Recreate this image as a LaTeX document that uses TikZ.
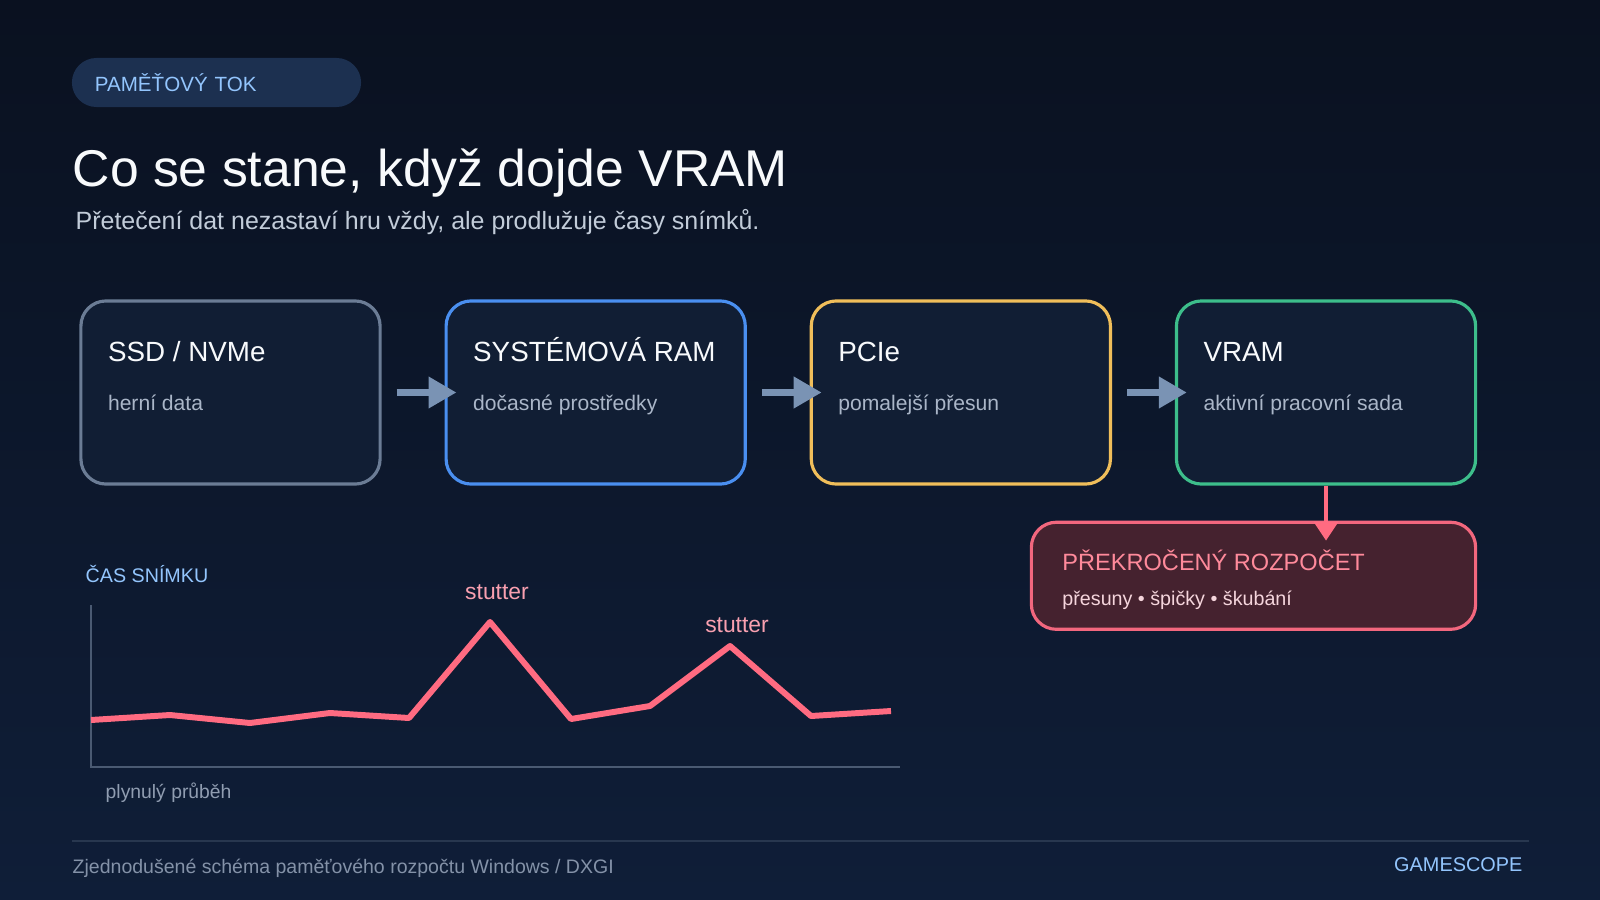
\documentclass[tikz,border=0pt]{standalone}
\usepackage{fontspec}
\setmainfont{Liberation Sans}
\usepackage{xcolor}
\usetikzlibrary{arrows.meta, positioning, calc}
\definecolor{bgtop}{HTML}{0A1120}
\definecolor{bgbot}{HTML}{0F1E38}
\definecolor{panel}{HTML}{111E34}
\definecolor{pill}{HTML}{1C3050}
\definecolor{ink}{HTML}{F8FAFC}
\definecolor{mute}{HTML}{AAB6C8}
\definecolor{lede}{HTML}{C2CCD9}
\definecolor{sky}{HTML}{93C5FD}
\definecolor{slate}{HTML}{6B7C95}
\definecolor{ramblue}{HTML}{4A8FF0}
\definecolor{amber}{HTML}{F0BE5A}
\definecolor{mint}{HTML}{3DBE8B}
\definecolor{rose}{HTML}{FF6B81}
\definecolor{roseline}{HTML}{F2677E}
\definecolor{rosefill}{HTML}{45222F}
\definecolor{rosetext}{HTML}{FF8A9B}
\definecolor{rosesub}{HTML}{F5D5DC}
\definecolor{spiketext}{HTML}{F9A0B0}
\definecolor{arrowc}{HTML}{7A93B4}
\definecolor{axis}{HTML}{4A5A72}
\definecolor{rulecolor}{HTML}{28374F}
\definecolor{foot}{HTML}{8492A8}
\tikzset{
  stage/.style    ={draw=#1, line width=0.9pt, rounded corners=0.25cm, fill=panel,
                    minimum width=2.99cm, minimum height=1.83cm, inner sep=0pt},
  stagehead/.style={anchor=base west, inner sep=0pt, text=ink,
                    font=\fontsize{7.9pt}{9pt}\selectfont},
  stagesub/.style ={anchor=base west, inner sep=0pt, text=mute,
                    font=\fontsize{6pt}{7pt}\selectfont},
  overbox/.style  ={draw=roseline, line width=0.9pt, rounded corners=0.25cm, fill=rosefill,
                    minimum width=4.44cm, minimum height=1.07cm, inner sep=0pt},
  overhead/.style ={anchor=base west, inner sep=0pt, text=rosetext,
                    font=\fontsize{6.7pt}{8pt}\selectfont},
  oversub/.style  ={anchor=base west, inner sep=0pt, text=rosesub,
                    font=\fontsize{5.6pt}{7pt}\selectfont},
  flow/.style     ={-{Triangle[length=0.28cm,width=0.3cm]}, line width=2pt, draw=arrowc,
                    shorten <=0.15cm, shorten >=-0.12cm},
  alarm/.style    ={-{Triangle[length=0.19cm,width=0.24cm]}, line width=1.1pt, draw=rose,
                    shorten >=-0.2cm},
  tag/.style      ={fill=pill, rounded corners=0.245cm, minimum height=0.49cm,
                    text width=2.43cm, inner xsep=0.23cm, inner ysep=0pt, align=left,
                    text=sky, font=\fontsize{5.85pt}{7pt}\selectfont},
  headline/.style ={anchor=base west, inner sep=0pt, text=ink,
                    font=\fontsize{14.7pt}{17pt}\selectfont},
  ledetext/.style ={anchor=base west, inner sep=0pt, text=lede,
                    font=\fontsize{7.1pt}{8.5pt}\selectfont},
  chartcap/.style ={anchor=base west, inner sep=0pt, text=sky,
                    font=\fontsize{5.6pt}{7pt}\selectfont},
  spike/.style    ={anchor=base, inner sep=0pt, text=spiketext,
                    font=\fontsize{6.5pt}{8pt}\selectfont},
  chartnote/.style={anchor=base west, inner sep=0pt, text=foot!90!white,
                    font=\fontsize{5.5pt}{7pt}\selectfont},
  footnote/.style ={anchor=base west, inner sep=0pt, text=foot,
                    font=\fontsize{5.55pt}{7pt}\selectfont},
  brand/.style    ={anchor=base east, inner sep=0pt, text=sky,
                    font=\fontsize{5.65pt}{7pt}\selectfont}
}

\begin{document}
\begin{tikzpicture}[x=0.01cm, y=-0.01cm]

  \useasboundingbox (0,0) rectangle (1600,900);
  \shade[top color=bgtop, bottom color=bgbot] (0,0) rectangle (1600,900);

  % heading
  \node[tag] (tag) at (216.5,82.5) {PAMĚŤOVÝ TOK};
  \node[headline] (title) at (72,186) {Co se stane, když dojde VRAM};
  \node[ledetext] (lede) at (75,229) {Přetečení dat nezastaví hru vždy, ale prodlužuje časy snímků.};

  % memory path
  \node[stage=slate]                          (ssd)  at (230.5,392.5) {};
  \node[stage=ramblue, right=0.628cm of ssd]  (ram)  {};
  \node[stage=amber,   right=0.628cm of ram]  (pcie) {};
  \node[stage=mint,    right=0.628cm of pcie] (vram) {};

  \node[stagehead] (ssdT)  at ($(ssd.north west)+(28,62)$)  {SSD / NVMe};
  \node[stagesub]  (ssdS)  at ($(ssd.north west)+(28,111)$) {herní data};
  \node[stagehead] (ramT)  at ($(ram.north west)+(28,62)$)  {SYSTÉMOVÁ RAM};
  \node[stagesub]  (ramS)  at ($(ram.north west)+(28,111)$) {dočasné prostředky};
  \node[stagehead] (pcieT) at ($(pcie.north west)+(28,62)$)  {PCIe};
  \node[stagesub]  (pcieS) at ($(pcie.north west)+(28,111)$) {pomalejší přesun};
  \node[stagehead] (vramT) at ($(vram.north west)+(28,62)$)  {VRAM};
  \node[stagesub]  (vramS) at ($(vram.north west)+(28,111)$) {aktivní pracovní sada};

  \draw[flow] (ssd)  -- (ram);
  \draw[flow] (ram)  -- (pcie);
  \draw[flow] (pcie) -- (vram);

  % budget overflow
  \node[overbox, below=0.35cm of vram.south east, anchor=north east] (over) {};
  \node[overhead] (overT) at ($(over.north west)+(32,50)$) {PŘEKROČENÝ ROZPOČET};
  \node[oversub]  (overS) at ($(over.north west)+(32,85)$) {přesuny • špičky • škubání};
  \draw[alarm] (vram.south) -- (vram.south |- over.north);

  % frame time chart
  \node[chartcap] (frametime) at (85,582) {ČAS SNÍMKU};
  \draw[axis, line width=0.6pt] (91,605) -- (91,767) -- (900,767);
  \draw[rose, line width=1.7pt, line join=round]
    (91,720) -- (170,715) -- (250,723) -- (330,713) -- (409,718) -- (490,622)
    -- (571,719) -- (650,706) -- (730,646) -- (811,716) -- (891,711);
  \node[spike] (spikeA) at (497,599) {stutter};
  \node[spike] (spikeB) at (737,632) {stutter};
  \node[chartnote] (smooth) at (105,798) {plynulý průběh};

  % footer
  \draw[rulecolor, line width=0.6pt] (72,841) -- (1529,841);
  \node[footnote] (source) at (72,873) {Zjednodušené schéma paměťového rozpočtu Windows / DXGI};
  \node[brand] (maker) at (1523,871) {GAMESCOPE};

\end{tikzpicture}
\end{document}
